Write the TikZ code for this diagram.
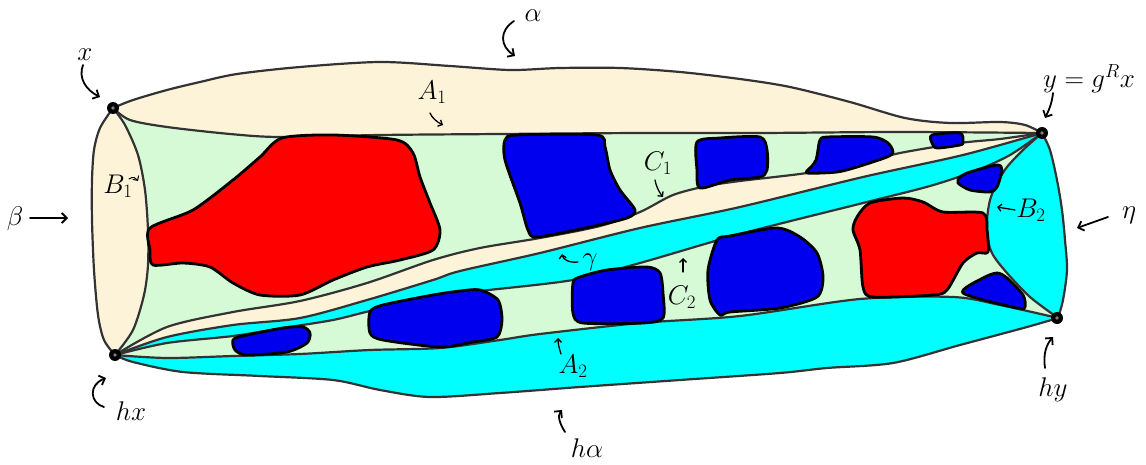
\RequirePackage{fix-cm}
\documentclass[tikz,border=0pt]{standalone}
\usetikzlibrary{arrows.meta}
\definecolor{beige}{HTML}{FDF3D8}
\definecolor{lgreen}{HTML}{D5FAD5}
\definecolor{cyanf}{HTML}{00FFFF}
\definecolor{blueb}{HTML}{0000EE}
\definecolor{redb}{HTML}{FF0000}
\definecolor{edgec}{HTML}{333333}
\newcommand\EX[1]{\edef\tmpEX{#1}\tmpEX}
% curves (pixel coordinates, y downward)
\def\Ctop{(113,108) (133,100) (167,90) (200,82) (237,74) (300,67) (380,62) (450,66) (510,70) (560,68) (620,68) (680,72) (740,79) (790,87) (850,102) (905,118) (950,123) (1000,122) (1025,125) (1042,133)}
\def\CAone{(113,108) (130,120) (167,127) (230,134) (280,137) (380,135) (500,134) (640,133) (760,133) (900,132) (1042,133)}
\def\CAoneR{(1042,133) (900,132) (760,133) (640,133) (500,134) (380,135) (280,137) (230,134) (167,127) (130,120) (113,108)}
\def\Cleft{(113,108) (100,128) (94,150) (92,180) (92,220) (94,270) (98,315) (104,340) (115,355)}
\def\CleftR{(115,355) (104,340) (98,315) (94,270) (92,220) (92,180) (94,150) (100,128) (113,108)}
\def\CBone{(113,108) (125,125) (138,155) (145,190) (148,230) (148,265) (144,295) (133,330) (115,355)}
\def\CBoneR{(115,355) (133,330) (144,295) (148,265) (148,230) (145,190) (138,155) (125,125) (113,108)}
\def\CConelow{(115,355) (167,327) (233,312) (300,301) (367,283) (433,260) (480,248) (540,238) (600,226) (640,212) (673,195) (707,186) (740,181) (807,173) (860,163) (900,153) (960,143) (1000,139) (1042,133)}
\def\Cgamma{(115,355) (167,337) (233,325) (300,318) (367,300) (433,280) (460,271) (540,253) (640,228) (740,207) (863,177) (963,155) (1042,133)}
\def\CgammaR{(1042,133) (963,155) (863,177) (740,207) (640,228) (540,253) (460,271) (433,280) (367,300) (300,318) (233,325) (167,337) (115,355)}
\def\CCtwoup{(115,355) (167,343) (233,336) (283,328) (333,320) (370,311) (433,297) (480,291) (573,280) (640,263) (740,234) (863,203) (930,186) (975,171) (1010,155) (1042,133)}
\def\CCtwoupR{(1042,133) (1010,155) (975,171) (930,186) (863,203) (740,234) (640,263) (573,280) (480,291) (433,297) (370,311) (333,320) (283,328) (233,336) (167,343) (115,355)}
\def\CAtwoup{(115,355) (167,358) (233,356) (300,354) (370,350) (440,348) (500,340) (540,334) (640,323) (740,316) (860,299) (953,297) (1000,305) (1058,318)}
\def\Cbottom{(115,355) (133,362) (183,372) (260,376) (333,380) (380,390) (430,397) (500,393) (580,387) (680,380) (780,373) (827,368) (893,363) (960,345) (1027,327) (1058,318)}
\def\CbottomR{(1058,318) (1027,327) (960,345) (893,363) (827,368) (780,373) (680,380) (580,387) (500,393) (430,397) (380,390) (333,380) (260,376) (183,372) (133,362) (115,355)}
\def\Cright{(1042,133) (1050,150) (1057,180) (1062,210) (1065,240) (1067,270) (1063,300) (1058,318)}
\def\CBtwo{(1042,133) (1023,150) (1007,167) (997,183) (990,200) (987,220) (988,240) (993,255) (1007,273) (1030,297) (1058,318)}
\def\CBtwoR{(1058,318) (1030,297) (1007,273) (993,255) (988,240) (987,220) (990,200) (997,183) (1007,167) (1023,150) (1042,133)}
\begin{document}
\begin{tikzpicture}[x=1pt,y=-1pt,
  edge/.style={draw=edgec,line width=2.2pt,line join=round},
  blob/.style={draw=black,line width=2.8pt,line join=round},
  vtx/.style={circle,fill=black,inner sep=0pt,minimum size=12pt},
  lab/.style={inner sep=0pt,font=\fontsize{27}{32}\selectfont},
  bigarrow/.style={-{Straight Barb[length=5pt,width=10pt]},line width=1.8pt,line cap=round},
  smallarrow/.style={-{Straight Barb[length=3.5pt,width=7pt]},line width=1.3pt,line cap=round}]
\useasboundingbox (0,0) rectangle (1146,465);
% region fills
\EX{\noexpand\fill[lgreen] plot[smooth] coordinates {\Ctop} -- plot[smooth] coordinates {\Cright} -- plot[smooth] coordinates {\CbottomR} -- plot[smooth] coordinates {\CleftR} -- cycle;}
\EX{\noexpand\fill[beige] plot[smooth] coordinates {\Ctop} -- plot[smooth] coordinates {\CAoneR} -- cycle;}
\EX{\noexpand\fill[beige] plot[smooth] coordinates {\Cleft} -- plot[smooth] coordinates {\CBoneR} -- cycle;}
\EX{\noexpand\fill[beige] plot[smooth] coordinates {\CConelow} -- plot[smooth] coordinates {\CgammaR} -- cycle;}
\EX{\noexpand\fill[cyanf] plot[smooth] coordinates {\Cgamma} -- plot[smooth] coordinates {\CCtwoupR} -- cycle;}
\EX{\noexpand\fill[cyanf] plot[smooth] coordinates {\CAtwoup} -- plot[smooth] coordinates {\CbottomR} -- cycle;}
\EX{\noexpand\fill[cyanf] plot[smooth] coordinates {\Cright} -- plot[smooth] coordinates {\CBtwoR} -- cycle;}
% boundary curves
\EX{\noexpand\draw[edge] plot[smooth] coordinates {\Ctop};}
\EX{\noexpand\draw[edge] plot[smooth] coordinates {\CAone};}
\EX{\noexpand\draw[edge] plot[smooth] coordinates {\Cleft};}
\EX{\noexpand\draw[edge] plot[smooth] coordinates {\CBone};}
\EX{\noexpand\draw[edge] plot[smooth] coordinates {\CConelow};}
\EX{\noexpand\draw[edge] plot[smooth] coordinates {\Cgamma};}
\EX{\noexpand\draw[edge] plot[smooth] coordinates {\CCtwoup};}
\EX{\noexpand\draw[edge] plot[smooth] coordinates {\CAtwoup};}
\EX{\noexpand\draw[edge] plot[smooth] coordinates {\Cbottom};}
\EX{\noexpand\draw[edge] plot[smooth] coordinates {\Cright};}
\EX{\noexpand\draw[edge] plot[smooth] coordinates {\CBtwo};}
% blobs in C1
\draw[blob,fill=redb] plot[smooth cycle,tension=0.45] coordinates {(150,228) (193,210) (233,180) (260,157) (282,138) (333,135) (397,140) (413,153) (420,177) (430,203) (440,230) (433,250) (400,260) (367,267) (333,280) (300,295) (260,295) (233,283) (210,267) (183,263) (153,265) (150,250)};
\draw[blob,fill=blueb] plot[smooth cycle,tension=0.45] coordinates {(505,140) (517,135) (597,135) (605,147) (610,170) (620,190) (635,210) (627,218) (590,227) (537,237) (528,230) (520,203) (505,160)};
\draw[blob,fill=blueb] plot[smooth cycle,tension=0.45] coordinates {(697,142) (720,138) (760,137) (767,150) (767,170) (760,177) (730,180) (700,188) (697,170)};
\draw[blob,fill=blueb] plot[smooth cycle,tension=0.45] coordinates {(820,140) (827,137) (873,137) (888,143) (893,152) (887,157) (857,167) (837,172) (807,173) (812,166) (816,160) (818,150)};
\draw[blob,fill=blueb] plot[smooth cycle,tension=0.45] coordinates {(932,135) (960,133) (963,142) (960,145) (937,148) (932,143)};
% blobs in C2
\draw[blob,fill=blueb] plot[smooth cycle,tension=0.45] coordinates {(233,340) (243,336) (283,328) (303,327) (310,333) (307,343) (287,352) (247,355) (235,350)};
\draw[blob,fill=blueb] plot[smooth cycle,tension=0.45] coordinates {(370,312) (383,305) (433,295) (460,291) (480,290) (498,300) (502,320) (497,337) (473,342) (440,347) (383,340) (370,333)};
\draw[blob,fill=blueb] plot[smooth cycle,tension=0.45] coordinates {(573,283) (580,277) (607,270) (647,267) (660,273) (663,293) (663,318) (643,323) (583,323) (573,313)};
\draw[blob,fill=blueb] plot[smooth cycle,tension=0.45] coordinates {(708,270) (717,240) (730,236) (777,228) (800,237) (817,253) (823,277) (817,297) (780,308) (730,312) (720,315) (710,300)};
\draw[blob,fill=redb] plot[smooth cycle,tension=0.45] coordinates {(853,230) (857,217) (870,203) (903,198) (923,202) (943,212) (983,213) (987,230) (988,252) (977,253) (963,263) (947,290) (933,295) (873,297) (863,287) (860,250)};
\draw[blob,fill=blueb] plot[smooth cycle,tension=0.45] coordinates {(958,183) (960,177) (970,172) (997,165) (1002,170) (997,187) (990,192) (970,190)};
\draw[blob,fill=blueb] plot[smooth cycle,tension=0.45] coordinates {(963,293) (983,278) (997,273) (1007,278) (1023,295) (1025,307) (1017,308)};
% vertices
\node[vtx] (X) at (113,108) {};
\node[vtx] (Y) at (1042,133) {};
\node[vtx] (HX) at (115,355) {};
\node[vtx] (HY) at (1057,318) {};
\foreach \v in {X,Y,HX,HY} \fill[gray] (\v) circle (1.8pt);
% labels
\node[lab] (lalpha) at (533,16) {$\alpha$};
\node[lab] (lx) at (85,55) {$x$};
\node[lab] (ly) at (1089,79) {$y=g^Rx$};
\node[lab] (lbeta) at (15,219) {$\beta$};
\node[lab] (lB1) at (118,186) {$B_1$};
\node[lab] (lA1) at (432,92) {$A_1$};
\node[lab] (lC1) at (658,163) {$C_1$};
\node[lab] (lgamma) at (590,262) {$\gamma$};
\node[lab] (lC2) at (682,297) {$C_2$};
\node[lab] (lA2) at (573,366) {$A_2$};
\node[lab] (lhalpha) at (587,448) {$h\alpha$};
\node[lab] (lhx) at (131,411) {$hx$};
\node[lab] (lhy) at (1053,390) {$hy$};
\node[lab] (lB2) at (1031,210) {$B_2$};
\node[lab] (leta) at (1129,215) {$\eta$};
% arrow end points
\coordinate (a1) at (514,21); \coordinate (a2) at (515,56);
\coordinate (x1) at (83,65); \coordinate (x2) at (100,97);
\coordinate (y1) at (1053,93); \coordinate (y2) at (1045,118);
\coordinate (b1) at (30,218); \coordinate (b2) at (68,218);
\coordinate (B11) at (129,179); \coordinate (B12) at (138,181);
\coordinate (A11) at (430,113); \coordinate (A12) at (443,125);
\coordinate (C11) at (655,180); \coordinate (C12) at (663,197);
\coordinate (g1) at (578,262); \coordinate (g2) at (562,254);
\coordinate (C21) at (683,272); \coordinate (C22) at (683,258);
\coordinate (A21) at (561,354); \coordinate (A22) at (558,338);
\coordinate (ha1) at (565,432); \coordinate (ha2) at (562,410);
\coordinate (hx1) at (104,407); \coordinate (hx2) at (106,378);
\coordinate (hy1) at (1045,368); \coordinate (hy2) at (1053,337);
\coordinate (B21) at (1015,210); \coordinate (B22) at (997,207);
\coordinate (e1) at (1108,217); \coordinate (e2) at (1077,228);
% arrows
\draw[bigarrow] (a1) .. controls (499,31) and (500,46) .. (a2);
\draw[bigarrow] (x1) .. controls (78,78) and (86,90) .. (x2);
\draw[bigarrow] (y1) .. controls (1052,103) and (1049,110) .. (y2);
\draw[bigarrow] (b1) -- (b2);
\draw[smallarrow,line width=1pt] (B11) .. controls (133,176) and (136,178) .. (B12);
\draw[smallarrow] (A11) .. controls (432,118) and (437,122) .. (A12);
\draw[smallarrow] (C11) .. controls (656,186) and (659,192) .. (C12);
\draw[smallarrow] (g1) .. controls (570,263) and (563,260) .. (g2);
\draw[smallarrow] (C21) -- (C22);
\draw[smallarrow] (A21) .. controls (559,348) and (558,343) .. (A22);
\draw[bigarrow] (ha1) .. controls (560,424) and (557,416) .. (ha2);
\draw[bigarrow] (hx1) .. controls (90,403) and (88,385) .. (hx2);
\draw[bigarrow] (hy1) .. controls (1043,355) and (1046,345) .. (hy2);
\draw[smallarrow] (B21) -- (B22);
\draw[bigarrow] (e1) -- (e2);
\end{tikzpicture}
\end{document}
